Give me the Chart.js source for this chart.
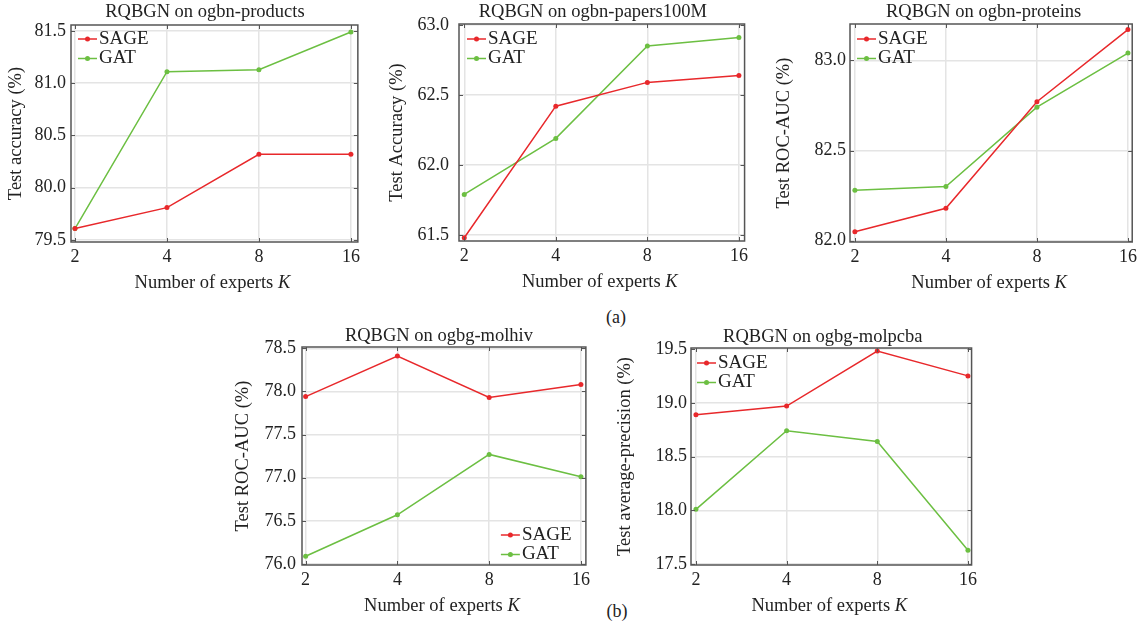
<!DOCTYPE html>
<html>
<head>
<meta charset="utf-8">
<script src="https://cdn.jsdelivr.net/npm/chart.js@4.4.0/dist/chart.umd.min.js"></script>
<style>
  html, body { margin: 0; padding: 0; background: #fff; }
  #page { position: relative; width: 1145px; height: 628px; overflow: hidden;
          font-family: 'Liberation Serif', 'Times New Roman', serif; color: #222; }
  #page canvas { position: absolute; }
  .tag { position: absolute; font-size: 18px; transform: translate(-50%, -50%); }
</style>
</head>
<body>
<div id="page">
  <div class="tag" style="left:616px;top:317px">(a)</div>
  <div class="tag" style="left:617px;top:611px">(b)</div>
</div>
<script>
const experts = [2, 4, 8, 16];

const productsSage = [79.61, 79.81, 80.32, 80.32];
const productsGat = [79.61, 81.11, 81.13, 81.49];
const productsTicks = [79.5, 80.0, 80.5, 81.0, 81.5];

const papersSage = [61.48, 62.42, 62.59, 62.64];
const papersGat = [61.79, 62.19, 62.85, 62.91];
const papersTicks = [61.5, 62.0, 62.5, 63.0];

const proteinsSage = [82.05, 82.18, 82.77, 83.17];
const proteinsGat = [82.28, 82.30, 82.74, 83.04];
const proteinsTicks = [82.0, 82.5, 83.0];

const molhivSage = [77.94, 78.41, 77.93, 78.08];
const molhivGat = [76.09, 76.57, 77.27, 77.01];
const molhivTicks = [76.0, 76.5, 77.0, 77.5, 78.0, 78.5];

const molpcbaSage = [18.89, 18.97, 19.48, 19.25];
const molpcbaGat = [18.01, 18.74, 18.64, 17.63];
const molpcbaTicks = [17.5, 18.0, 18.5, 19.0, 19.5];

const SERIF = "'Liberation Serif', 'Times New Roman', serif";
const INK = '#222';
const RED = '#e8282b';
const GREEN = '#6cbf42';
const GRID = '#e4e4e4';

// plot rectangles (L, T, R, B) and per-panel styling
const panels = [
    { title: 'RQBGN on ogbn-products', yLabel: 'Test accuracy (%)', sage: productsSage, gat: productsGat, yTicks: productsTicks,
      rect: [71, 25, 360, 242], yW: 65, tickPad: 5, xMin: 1.941, xMax: 16.86, yMin: 79.481, yMax: 81.557,
      titleDx: -9.5, titleDy: -13, legend: { corner: 'tl', dx: 7, dy: 14 } },
    { title: 'RQBGN on ogbn-papers100M', yLabel: 'Test Accuracy (%)', sage: papersSage, gat: papersGat, yTicks: papersTicks,
      rect: [459, 24, 748, 241], yW: 72, tickPad: 10, xMin: 1.922, xMax: 16.70, yMin: 61.457, yMax: 63.007,
      titleDx: -9, titleDy: -12, legend: { corner: 'tl', dx: 8, dy: 15 } },
    { title: 'RQBGN on ogbn-proteins', yLabel: 'Test ROC-AUC (%)', sage: proteinsSage, gat: proteinsGat, yTicks: proteinsTicks,
      rect: [850, 24, 1137, 242], yW: 76, tickPad: 4, xMin: 1.927, xMax: 16.53, yMin: 81.993, yMax: 83.201,
      titleDx: -7.5, titleDy: -12, legend: { corner: 'tl', dx: 7, dy: 15 } },
    { title: 'RQBGN on ogbg-molhiv', yLabel: 'Test ROC-AUC (%)', sage: molhivSage, gat: molhivGat, yTicks: molhivTicks,
      rect: [302, 347, 590, 565], yW: 69, tickPad: 6, xMin: 1.946, xMax: 16.61, yMin: 75.988, yMax: 78.515,
      titleDx: -5, titleDy: -10.5, legend: { corner: 'br', dx: 85, dy: 30 } },
    { title: 'RQBGN on ogbg-molpcba', yLabel: 'Test average-precision (%)', sage: molpcbaSage, gat: molpcbaGat, yTicks: molpcbaTicks,
      rect: [691, 348, 977, 565], yW: 76, tickPad: 4, xMin: 1.926, xMax: 16.45, yMin: 17.493, yMax: 19.509,
      titleDx: -8.5, titleDy: -10.5, legend: { corner: 'tl', dx: 6, dy: 15 } }
];

// frame with inward ticks, panel title, x label with italic K, legend inside the plot
const panelDecor = {
    id: 'panelDecor',
    afterDraw(chart, args, opts) {
        const { ctx, chartArea: a, scales } = chart;
        ctx.save();

        ctx.strokeStyle = '#555';
        ctx.lineWidth = 1;
        ctx.beginPath();
        scales.y.ticks.forEach(t => {
            const py = Math.round(scales.y.getPixelForValue(t.value)) + 0.5;
            ctx.moveTo(a.left, py); ctx.lineTo(a.left + 4, py);
            ctx.moveTo(a.right, py); ctx.lineTo(a.right - 4, py);
        });
        scales.x.ticks.forEach(t => {
            const px = Math.round(scales.x.getPixelForValue(t.value)) + 0.5;
            ctx.moveTo(px, a.bottom); ctx.lineTo(px, a.bottom - 4);
            ctx.moveTo(px, a.top); ctx.lineTo(px, a.top + 4);
        });
        ctx.stroke();
        ctx.lineWidth = 1.5;
        ctx.strokeRect(a.left, a.top, a.right - a.left, a.bottom - a.top);

        ctx.fillStyle = INK;
        ctx.textBaseline = 'middle';
        ctx.textAlign = 'center';
        ctx.font = '18.5px ' + SERIF;
        ctx.fillText(opts.title, (a.left + a.right) / 2 + opts.titleDx, a.top + opts.titleDy);

        // x axis label
        const plain = 'Number of experts ';
        ctx.textAlign = 'left';
        const w1 = ctx.measureText(plain).width;
        ctx.font = 'italic 18.5px ' + SERIF;
        const w2 = ctx.measureText('K').width;
        const x0 = (a.left + a.right) / 2 - (w1 + w2) / 2 - 2;
        const ly = a.bottom + 41;
        ctx.font = '18.5px ' + SERIF;
        ctx.fillText(plain, x0, ly);
        ctx.font = 'italic 18.5px ' + SERIF;
        ctx.fillText('K', x0 + w1, ly);

        // legend
        const lg = opts.legend;
        const lx = lg.corner === 'tl' ? a.left + lg.dx : a.right - lg.dx;
        const ly0 = lg.corner === 'tl' ? a.top + lg.dy : a.bottom - lg.dy;
        ctx.font = '19px ' + SERIF;
        chart.data.datasets.forEach((ds, i) => {
            const y = ly0 + i * 19.5;
            ctx.strokeStyle = ds.borderColor;
            ctx.lineWidth = 1.5;
            ctx.beginPath();
            ctx.moveTo(lx, y); ctx.lineTo(lx + 19, y);
            ctx.stroke();
            ctx.fillStyle = ds.borderColor;
            ctx.beginPath();
            ctx.arc(lx + 9.5, y, 2.5, 0, Math.PI * 2);
            ctx.fill();
            ctx.fillStyle = INK;
            ctx.fillText(ds.label, lx + 21, y);
        });
        ctx.restore();
    }
};

const page = document.getElementById('page');

panels.forEach(p => {
    const [L, T, R, B] = p.rect;
    const padTop = Math.min(28, T);
    const left = L - p.yW - 2;
    const top = T - padTop;
    const width = (R - L) + p.yW + 2 + 4;
    const height = (B - T) + padTop + 52 + 4;

    const canvas = document.createElement('canvas');
    canvas.width = width;
    canvas.height = height;
    canvas.style.left = left + 'px';
    canvas.style.top = top + 'px';
    canvas.style.width = width + 'px';
    canvas.style.height = height + 'px';
    page.appendChild(canvas);

    const line = (label, values, color) => ({
        label: label,
        data: experts.map((k, i) => ({ x: k, y: values[i] })),
        borderColor: color,
        backgroundColor: color,
        borderWidth: 1.5,
        pointRadius: 2.5,
        pointBorderWidth: 0,
        pointBackgroundColor: color,
        tension: 0
    });

    new Chart(canvas.getContext('2d'), {
        type: 'line',
        data: { datasets: [line('SAGE', p.sage, RED), line('GAT', p.gat, GREEN)] },
        plugins: [panelDecor],
        options: {
            responsive: false,
            animation: false,
            devicePixelRatio: 1,
            layout: { padding: { left: 2, top: padTop, right: 4, bottom: 4 } },
            plugins: {
                legend: { display: false },
                tooltip: { enabled: false },
                panelDecor: { title: p.title, titleDx: p.titleDx, titleDy: p.titleDy, legend: p.legend }
            },
            scales: {
                x: {
                    type: 'logarithmic',
                    min: p.xMin,
                    max: p.xMax,
                    afterBuildTicks: s => { s.ticks = experts.map(v => ({ value: v })); },
                    afterFit: s => { s.height = 52; },
                    ticks: { padding: 4, color: INK, font: { family: SERIF, size: 18 },
                             autoSkip: false, maxRotation: 0, callback: v => String(v) },
                    grid: { color: GRID, lineWidth: 1.5, drawTicks: false },
                    border: { display: false }
                },
                y: {
                    min: p.yMin,
                    max: p.yMax,
                    afterBuildTicks: s => { s.ticks = p.yTicks.map(v => ({ value: v })); },
                    afterFit: s => { s.width = p.yW; },
                    ticks: { padding: p.tickPad, color: INK, font: { family: SERIF, size: 18 },
                             callback: v => Number(v).toFixed(1) },
                    grid: { color: GRID, lineWidth: 1.5, drawTicks: false },
                    border: { display: false },
                    title: { display: true, text: p.yLabel, color: INK, padding: 0,
                             font: { family: SERIF, size: 18.5, lineHeight: '20px' } }
                }
            }
        }
    });
});
</script>
</body>
</html>
